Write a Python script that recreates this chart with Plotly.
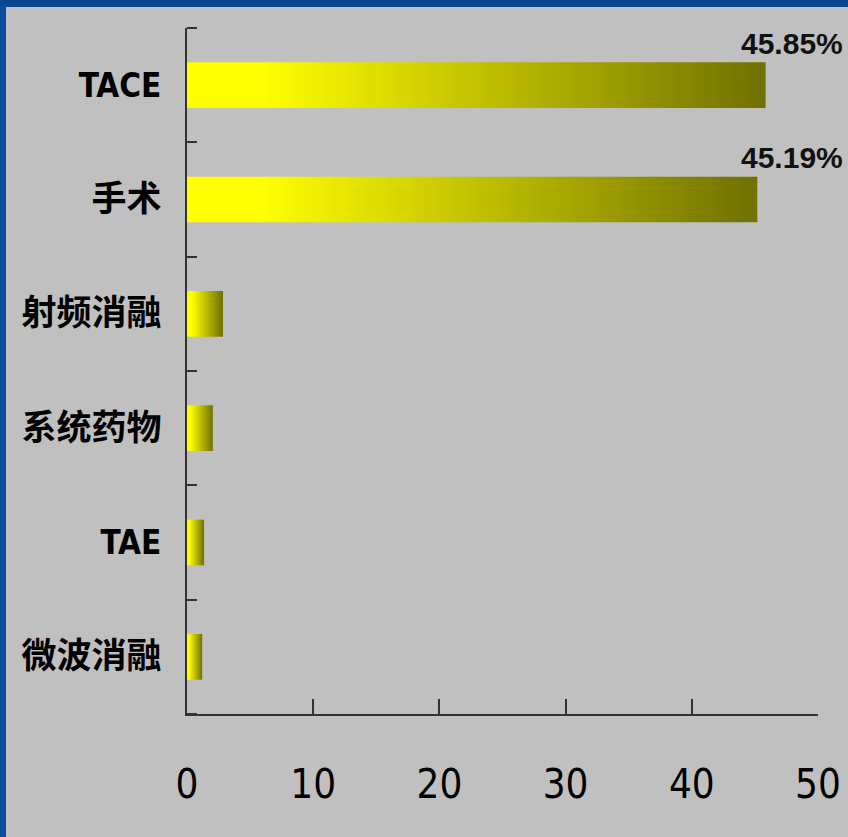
import plotly.graph_objects as go

# ---- data ----
categories = ["TACE", "手术", "射频消融", "系统药物", "TAE", "微波消融"]
values = [45.85, 45.19, 2.85, 2.05, 1.35, 1.2]
show_value_label = [True, True, False, False, False, False]
x_tick_values = [0, 10, 20, 30, 40, 50]

# ---- style ----
BG = "#c0c0c0"
AXIS = "#333333"
BAR_HALF = 0.2
GRAD = [[0, "#ffff00"], [0.13, "#ffff00"], [1, "#707000"]]
L, R, T, B = 187, 30, 28, 123
W, H = 848, 837
PW, PH = W - L - R, H - T - B

fig = go.Figure()

for i, (cat, v) in enumerate(zip(categories, values)):
    fig.add_trace(go.Scatter(
        x=[0, v, v, 0, 0],
        y=[i - BAR_HALF, i - BAR_HALF, i + BAR_HALF, i + BAR_HALF, i - BAR_HALF],
        mode="lines",
        fill="toself",
        fillgradient=dict(type="horizontal", colorscale=GRAD),
        line=dict(width=0),
        name=cat,
        hoverinfo="skip",
        showlegend=False,
    ))

annotations = []
for i, (v, show) in enumerate(zip(values, show_value_label)):
    if show:
        annotations.append(dict(
            x=(845 - L) / PW, xref="paper", xanchor="right",
            y=i, yref="y", yanchor="middle", yshift=42,
            text=f"<b>{v:.2f}%</b>", showarrow=False,
            font=dict(family="Liberation Sans, Arial, sans-serif", size=30, color="#111111"),
        ))


def tick_label(c):
    if c.isascii():
        return f"<b>{c}</b>"
    return f"<span style='font-size:35px'><b>{c}</b></span>"


ticktext = [tick_label(c) for c in categories]

shapes = [
    # left blue strip
    dict(type="rect", xref="paper", yref="paper", layer="below",
         x0=(-L - 5) / PW, x1=(6 - L) / PW, y0=-(B + 5) / PH, y1=1 + (T + 5) / PH,
         fillcolor="#0b4c9c", line=dict(width=0)),
    # top blue strip
    dict(type="rect", xref="paper", yref="paper", layer="below",
         x0=(-L - 5) / PW, x1=(W - L + 5) / PW, y0=1 + (T - 7) / PH, y1=1 + (T + 5) / PH,
         fillcolor="#0a4790", line=dict(width=0)),
]

fig.update_layout(
    width=W, height=H,
    paper_bgcolor=BG, plot_bgcolor=BG,
    margin=dict(l=L, r=R, t=T, b=B, autoexpand=False),
    annotations=annotations,
    shapes=shapes,
    xaxis=dict(
        range=[0, 50], tickvals=x_tick_values,
        showgrid=False, zeroline=False,
        showline=True, linecolor=AXIS, linewidth=2,
        ticks="inside", ticklen=15, tickwidth=1.5, tickcolor=AXIS,
        ticklabelstandoff=34,
        tickfont=dict(family="Liberation Sans Narrow, DejaVu Sans Condensed, sans-serif", size=40, color="#000000"),
    ),
    yaxis=dict(
        range=[len(categories) - 0.5, -0.5],
        tickvals=list(range(len(categories))), ticktext=ticktext,
        showgrid=False, zeroline=False,
        showline=True, linecolor=AXIS, linewidth=2,
        ticks="", ticklabelstandoff=17,
        minor=dict(tickvals=[i - 0.5 for i in range(len(categories) + 1)],
                   ticks="inside", ticklen=10, tickwidth=1.5, tickcolor=AXIS, showgrid=False),
        tickfont=dict(family="Liberation Sans Narrow, DejaVu Sans Condensed, Noto Sans CJK SC, sans-serif", size=33, color="#000000"),
    ),
)

fig.write_html(
    "out.html",
    config={"displayModeBar": False},
    post_script="document.body.style.margin='0';document.body.style.overflow='hidden';",
)
